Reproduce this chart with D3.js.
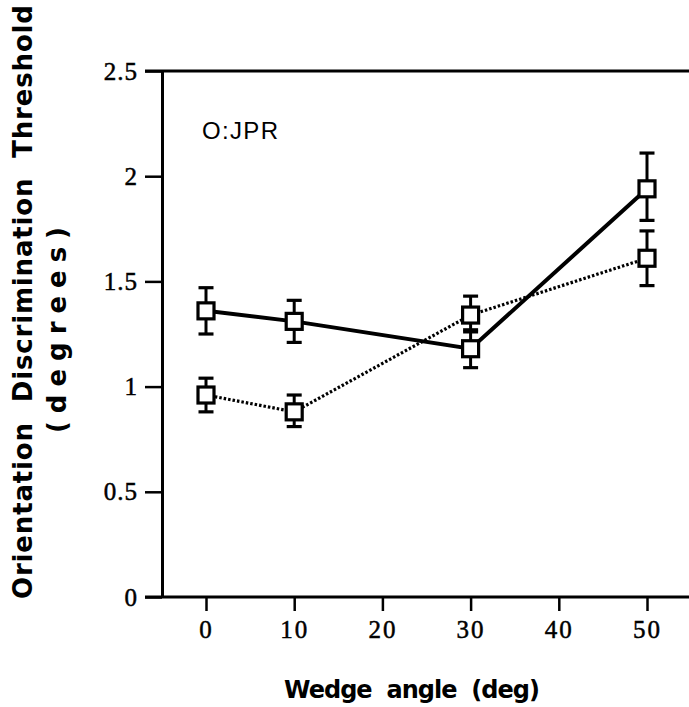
<!DOCTYPE html>
<html>
<head>
<meta charset="utf-8">
<script src="https://cdn.jsdelivr.net/npm/d3@7"></script>
<style>
  body { margin: 0; background: #fff; }
  svg { display: block; }
</style>
</head>
<body>
<div id="chart"></div>
<script>
// Wedge angle (deg) and thresholds
var angles = [0, 10, 30, 50];
var solidMean = [1.36, 1.31, 1.18, 1.94];
var solidLow = [1.25, 1.21, 1.09, 1.79];
var solidHigh = [1.47, 1.41, 1.27, 2.11];
var dottedMean = [0.96, 0.88, 1.34, 1.61];
var dottedLow = [0.88, 0.81, 1.26, 1.48];
var dottedHigh = [1.04, 0.96, 1.43, 1.74];
var xTicks = [0, 10, 20, 30, 40, 50];
var yTicks = [0, 0.5, 1, 1.5, 2, 2.5];

var width = 689, height = 707;

var x = d3.scaleLinear().domain([0, 50]).range([206, 647]);
var y = d3.scaleLinear().domain([0, 2.5]).range([597, 71]);
var axisX = 162;
var serif = "'Liberation Serif', 'Times New Roman', serif";
var boldFont = "'DejaVu Sans', 'Liberation Sans', Arial, sans-serif";

var svg = d3.select("#chart").append("svg")
    .attr("width", width)
    .attr("height", height);

// y axis (ticks go left of the line)
var yAxis = svg.append("g")
    .attr("transform", `translate(${axisX},0)`)
    .call(d3.axisLeft(y).tickValues(yTicks).tickSize(17).tickSizeOuter(0).tickPadding(7)
        .tickFormat(d => String(d)));
yAxis.select(".domain").attr("stroke-width", 3);
yAxis.selectAll(".tick line").attr("stroke-width", 2.5);
yAxis.selectAll(".tick text")
    .style("font-family", serif)
    .style("font-size", "25px")
    .attr("letter-spacing", 1)
    .attr("stroke", "#000")
    .attr("stroke-width", 0.5)
    .attr("fill", "#000");

// x axis
var xAxis = svg.append("g")
    .attr("transform", `translate(0,${y(0)})`)
    .call(d3.axisBottom(x).tickValues(xTicks).tickSize(14).tickSizeOuter(0).tickPadding(9));
xAxis.select(".domain").remove();
xAxis.selectAll(".tick line").attr("stroke-width", 2.5);
xAxis.selectAll(".tick text")
    .style("font-family", serif)
    .style("font-size", "25px")
    .attr("letter-spacing", 2)
    .attr("stroke", "#000")
    .attr("stroke-width", 0.5)
    .attr("fill", "#000");

// bottom and top frame lines running to the right edge
svg.append("line")
    .attr("x1", 145).attr("x2", width)
    .attr("y1", y(0)).attr("y2", y(0))
    .attr("stroke", "#000").attr("stroke-width", 3);
svg.append("line")
    .attr("x1", 145).attr("x2", width)
    .attr("y1", y(2.5)).attr("y2", y(2.5))
    .attr("stroke", "#000").attr("stroke-width", 3);

var series = [
    { mean: solidMean, low: solidLow, high: solidHigh, dash: null, w: 4 },
    { mean: dottedMean, low: dottedLow, high: dottedHigh, dash: "2.5,2", w: 3.2 }
];

var line = d3.line().x(d => x(d.a)).y(d => y(d.v));

series.forEach(s => {
    var pts = angles.map((a, i) => ({ a: a, v: s.mean[i], lo: s.low[i], hi: s.high[i] }));

    svg.append("path")
        .datum(pts)
        .attr("d", line)
        .attr("fill", "none")
        .attr("stroke", "#000")
        .attr("stroke-width", s.w)
        .attr("stroke-dasharray", s.dash);

    var eb = svg.append("g").selectAll("g")
        .data(pts)
        .join("g");
    eb.append("line")
        .attr("x1", d => x(d.a)).attr("x2", d => x(d.a))
        .attr("y1", d => y(d.lo)).attr("y2", d => y(d.hi))
        .attr("stroke", "#000").attr("stroke-width", 3);
    ["lo", "hi"].forEach(k => {
        eb.append("line")
            .attr("x1", d => x(d.a) - 7.5).attr("x2", d => x(d.a) + 7.5)
            .attr("y1", d => y(d[k])).attr("y2", d => y(d[k]))
            .attr("stroke", "#000").attr("stroke-width", 3.2);
    });

    svg.append("g").selectAll("rect")
        .data(pts)
        .join("rect")
        .attr("x", d => x(d.a) - 8)
        .attr("y", d => y(d.v) - 8)
        .attr("width", 16)
        .attr("height", 16)
        .attr("fill", "#fff")
        .attr("stroke", "#000")
        .attr("stroke-width", 3.2);
});

// subject label
svg.append("text")
    .attr("x", 202).attr("y", 139)
    .attr("font-family", "'Liberation Sans', Arial, sans-serif")
    .attr("font-size", 24)
    .attr("textLength", 76)
    .text("O:JPR");

// axis titles
svg.append("text")
    .attr("transform", "translate(32,302) rotate(-90)")
    .attr("text-anchor", "middle")
    .attr("font-family", boldFont)
    .attr("font-weight", "bold")
    .attr("font-size", 26)
    .attr("textLength", 594)
    .attr("lengthAdjust", "spacing")
    .style("white-space", "pre")
    .text("Orientation  Discrimination  Threshold");

svg.append("text")
    .attr("transform", "translate(66,330) rotate(-90)")
    .attr("text-anchor", "middle")
    .attr("font-family", boldFont)
    .attr("font-weight", "bold")
    .attr("font-size", 26)
    .attr("textLength", 206)
    .attr("lengthAdjust", "spacing")
    .text("(degrees)");

svg.append("text")
    .attr("x", 412).attr("y", 698)
    .attr("text-anchor", "middle")
    .attr("font-family", boldFont)
    .attr("font-weight", "bold")
    .attr("font-size", 24)
    .attr("textLength", 256)
    .attr("lengthAdjust", "spacing")
    .style("white-space", "pre")
    .text("Wedge  angle  (deg)");
</script>
</body>
</html>
